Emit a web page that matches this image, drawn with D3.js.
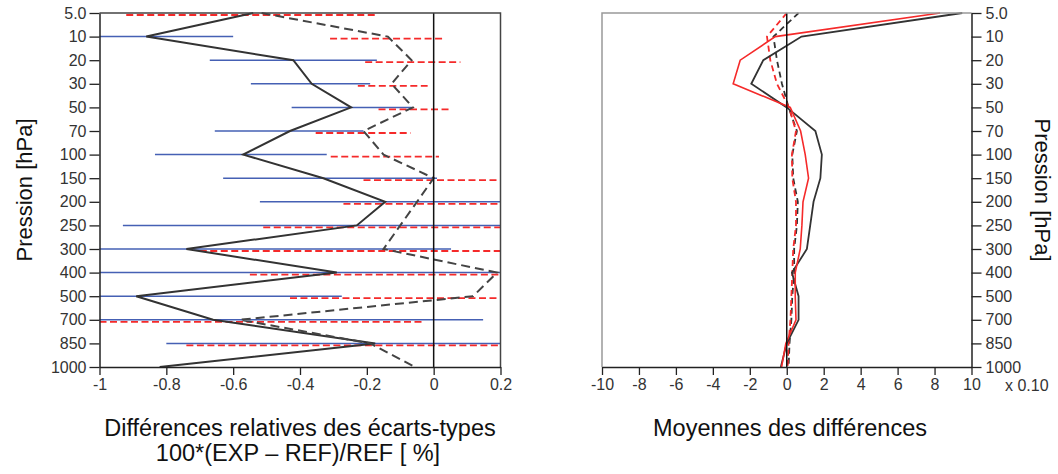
<!DOCTYPE html>
<html>
<head>
<meta charset="utf-8">
<script src="https://cdn.jsdelivr.net/npm/d3@7"></script>
<style>
  html, body { margin: 0; padding: 0; background: #fff; }
  svg { display: block; font-family: "Liberation Sans", Arial, sans-serif; }
</style>
</head>
<body>
<svg id="chart" width="1058" height="474"></svg>
<script>
// ---------- DATA ----------
const levels = ["5.0","10","20","30","50","70","100","150","200","250","300","400","500","700","850","1000"];

// Left panel: relative differences of standard deviations
const stdSolid   = [-0.54, -0.86, -0.42, -0.365, -0.247, -0.43, -0.57, -0.33, -0.145, -0.23, -0.74, -0.29, -0.89, -0.66, -0.175, -0.82];
const stdSolidLo = [null, -1.05, -0.67, -0.547, -0.425, -0.655, -0.834, -0.63, -0.52, -0.93, -1.05, -1.05, -1.05, -1.05, -0.80, null];
const stdSolidHi = [null, -0.60, -0.17, -0.19, -0.066, -0.21, -0.32, 0.01, 0.30, 0.30, 0.052, 0.30, -0.275, 0.148, 0.30, null];
const stdDashed   = [-0.515, -0.137, -0.066, -0.126, -0.062, -0.21, -0.15, 0.0, -0.05, -0.10, -0.15, 0.19, 0.118, -0.58, -0.19, -0.056];
const stdDashedLo = [-0.92, -0.31, -0.205, -0.227, -0.165, -0.353, -0.308, -0.21, -0.27, -0.51, -0.70, -0.55, -0.43, -1.0, -0.74, null];
const stdDashedHi = [-0.17, 0.03, 0.08, -0.018, 0.049, -0.069, 0.016, 0.30, 0.30, 0.30, 0.30, 0.30, 0.30, -0.03, 0.30, null];

// Right panel: mean differences (x 0.10)
const meanBlack     = [9.5, 0.8, -1.27, -1.92, 0.0, 1.55, 1.9, 1.82, 1.45, 1.27, 1.09, 0.28, 0.64, 0.64, 0.0, -0.32];
const meanRed       = [8.3, -0.62, -2.52, -2.9, 0.19, 0.75, 1.0, 1.18, 0.88, 0.82, 0.73, 0.46, 0.46, 0.5, -0.05, -0.28];
const meanBlackDash = [0.64, -0.72, -0.53, -0.26, 0.1, 0.55, 0.3, 0.35, 0.6, 0.55, 0.4, 0.4, 0.3, 0.25, 0.15, 0.1];
const meanRedDash   = [0.0, -1.07, -0.89, -0.53, 0.12, 0.5, 0.28, 0.3, 0.5, 0.5, 0.35, 0.3, 0.25, 0.2, 0.1, 0.05];

const xTicksL = [-1, -0.8, -0.6, -0.4, -0.2, 0, 0.2];
const xTickLabelsL = ["-1", "-0.8", "-0.6", "-0.4", "-0.2", "0", "0.2"];
const xTicksR = [-10, -8, -6, -4, -2, 0, 2, 4, 6, 8, 10];
const xTickLabelsR = ["-10", "-8", "-6", "-4", "-2", "0", "2", "4", "6", "8", "10"];

// ---------- LAYOUT ----------
const svg = d3.select("#chart");
const yTop = 13, yBot = 367;
const L = {x0: 99.5, x1: 500.5};
const R = {x0: 602, x1: 971.5};

const yL = d3.scalePoint().domain(levels).range([yTop, yBot]);
const xL = d3.scaleLinear().domain([-1, 0.2]).range([L.x0, L.x1]);
const xR = d3.scaleLinear().domain([-10, 10]).range([R.x0, R.x1]);

const blue = "#4560b4", red = "#f52a2a", dark = "#333";
const redOff = 2; // red error bars drawn slightly below

const defs = svg.append("defs");
defs.append("clipPath").attr("id", "clipL").append("rect")
  .attr("x", L.x0).attr("y", yTop - 2).attr("width", L.x1 - L.x0).attr("height", yBot - yTop + 4);
defs.append("clipPath").attr("id", "clipR").append("rect")
  .attr("x", R.x0).attr("y", yTop - 2).attr("width", R.x1 - R.x0).attr("height", yBot - yTop + 4);

// ---------- LEFT PANEL ----------
const gL = svg.append("g").attr("clip-path", "url(#clipL)");

gL.selectAll("line.blue").data(levels.map((l, i) => ({l, lo: stdSolidLo[i], hi: stdSolidHi[i]})).filter(d => d.lo !== null))
  .enter().append("line").attr("class", "blue")
  .attr("x1", d => xL(d.lo)).attr("x2", d => xL(d.hi))
  .attr("y1", d => yL(d.l)).attr("y2", d => yL(d.l))
  .attr("stroke", blue).attr("stroke-width", 1.5);

gL.selectAll("line.red").data(levels.map((l, i) => ({l, lo: stdDashedLo[i], hi: stdDashedHi[i]})).filter(d => d.lo !== null))
  .enter().append("line").attr("class", "red")
  .attr("x1", d => xL(d.lo)).attr("x2", d => xL(d.hi))
  .attr("y1", d => yL(d.l) + redOff).attr("y2", d => yL(d.l) + redOff)
  .attr("stroke", red).attr("stroke-width", 1.8).attr("stroke-dasharray", "7,3.5");

const lineL = d3.line().x(d => xL(d.v)).y(d => yL(d.l));
gL.append("path").datum(levels.map((l, i) => ({l, v: stdSolid[i]})))
  .attr("d", lineL).attr("fill", "none").attr("stroke", dark).attr("stroke-width", 2);
gL.append("path").datum(levels.map((l, i) => ({l, v: stdDashed[i]})))
  .attr("d", lineL).attr("fill", "none").attr("stroke", "#444").attr("stroke-width", 2)
  .attr("stroke-dasharray", "9,5");

svg.append("line").attr("x1", xL(0)).attr("x2", xL(0)).attr("y1", yTop).attr("y2", yBot)
  .attr("stroke", "#111").attr("stroke-width", 1.5);

svg.append("path")
  .attr("d", `M${L.x0},${yTop}H${L.x1}V${yBot}`)
  .attr("fill", "none").attr("stroke", "#444").attr("stroke-width", 1.5);

svg.append("g").attr("transform", `translate(${L.x0},0)`)
  .call(d3.axisLeft(yL).tickSize(10).tickSizeOuter(0).tickPadding(3));
svg.append("g").attr("transform", `translate(0,${yBot})`)
  .call(d3.axisBottom(xL).tickValues(xTicksL).tickFormat((d, i) => xTickLabelsL[i]).tickSize(8).tickSizeOuter(0).tickPadding(4));

// ---------- RIGHT PANEL ----------
const gR = svg.append("g").attr("clip-path", "url(#clipR)");
const lineR = d3.line().x(d => xR(d.v)).y(d => yL(d.l));
function drawR(vals, color, w, dash) {
  const p = gR.append("path").datum(levels.map((l, i) => ({l, v: vals[i]})))
    .attr("d", lineR).attr("fill", "none").attr("stroke", color).attr("stroke-width", w);
  if (dash) p.attr("stroke-dasharray", dash);
}
drawR(meanBlackDash, "#333", 1.8, "6,4");
drawR(meanRedDash, red, 1.8, "6,4");
drawR(meanBlack, "#333", 1.8, null);
drawR(meanRed, red, 1.6, null);

svg.append("line").attr("x1", xR(0)).attr("x2", xR(0)).attr("y1", yTop).attr("y2", yBot)
  .attr("stroke", "#111").attr("stroke-width", 1.5);

svg.append("path")
  .attr("d", `M${R.x0},${yBot}V${yTop}H${R.x1}`)
  .attr("fill", "none").attr("stroke", "#999").attr("stroke-width", 1.5);

svg.append("g").attr("transform", `translate(${R.x1},0)`)
  .call(d3.axisRight(yL).tickSize(10).tickSizeOuter(0).tickPadding(4));
svg.append("g").attr("transform", `translate(0,${yBot})`)
  .call(d3.axisBottom(xR).tickValues(xTicksR).tickFormat((d, i) => xTickLabelsR[i]).tickSize(8).tickSizeOuter(0).tickPadding(4));

svg.selectAll(".domain").attr("stroke", "#222").attr("stroke-width", 1.5);
svg.selectAll(".tick line").attr("stroke", "#222").attr("stroke-width", 1.3);
svg.selectAll(".tick text").attr("font-size", 16).attr("fill", "#333")
  .attr("font-family", "Liberation Sans, Arial, sans-serif");

// ---------- TITLES ----------
const tFont = "Liberation Sans, Arial, sans-serif";
svg.append("text").attr("transform", "translate(32,190) rotate(-90)")
  .attr("text-anchor", "middle").attr("font-size", 22).attr("fill", "#111").attr("font-family", tFont)
  .text("Pression [hPa]");
svg.append("text").attr("transform", "translate(1035,190) rotate(90)")
  .attr("text-anchor", "middle").attr("font-size", 22).attr("fill", "#111").attr("font-family", tFont)
  .text("Pression [hPa]");
svg.append("text").attr("x", 300).attr("y", 436).attr("text-anchor", "middle")
  .attr("font-size", 23.5).attr("fill", "#111").attr("font-family", tFont)
  .text("Différences relatives des écarts-types");
svg.append("text").attr("x", 298).attr("y", 461).attr("text-anchor", "middle")
  .attr("font-size", 23.5).attr("fill", "#111").attr("font-family", tFont)
  .text("100*(EXP – REF)/REF [ %]");
svg.append("text").attr("x", 790).attr("y", 436).attr("text-anchor", "middle")
  .attr("font-size", 23.5).attr("fill", "#111").attr("font-family", tFont)
  .text("Moyennes des différences");
svg.append("text").attr("x", 1005).attr("y", 391)
  .attr("font-size", 16).attr("fill", "#333").attr("font-family", tFont)
  .text("x 0.10");
</script>
</body>
</html>
